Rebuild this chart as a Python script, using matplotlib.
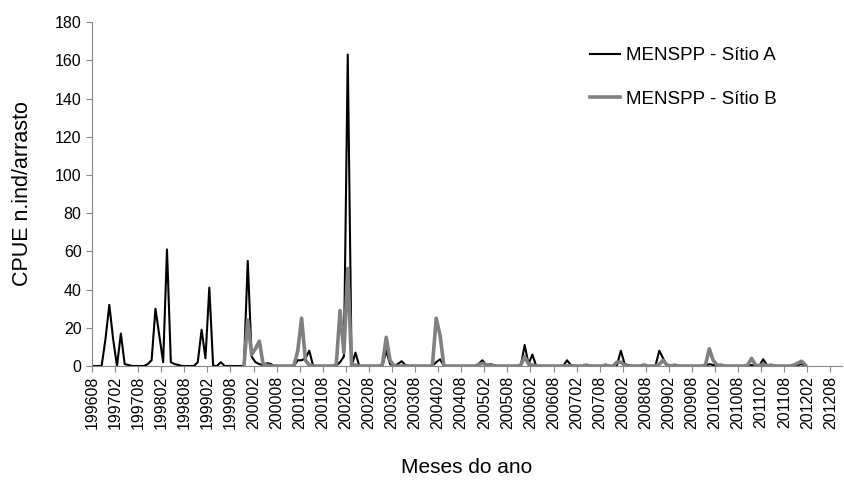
import numpy as np
import matplotlib
matplotlib.use("Agg")
import matplotlib.pyplot as plt

plt.rcParams['font.family'] = ['Liberation Sans', 'DejaVu Sans']

# meses no eixo: 199608 ... 201210 (categorias), rótulo a cada 6 meses
n_meses = 195
rotulos = ['199608', '199702', '199708', '199802', '199808', '199902',
           '199908', '200002', '200008', '200102', '200108', '200202',
           '200208', '200302', '200308', '200402', '200408', '200502',
           '200508', '200602', '200608', '200702', '200708', '200802',
           '200808', '200902', '200908', '201002', '201008', '201102',
           '201108', '201202', '201208']

# CPUE (n.ind/arrasto), uma linha por ano (ago-jul)
sitio_a = [
    0, 0, 0, 14, 32, 14, 0, 17, 1, 0.5, 0, 0,          # 199608-199707
    0, 0, 1, 3, 30, 16, 2, 61, 2, 1, 0.5, 0,            # 199708-199807
    0, 0, 0, 2, 19, 4, 41, 0, 0, 2, 0, 0,               # 199808-199907
    0, 0, 0, 0, 55, 5, 2, 1, 0.5, 1.5, 1, 0,            # 199908-200007
    0, 0, 0, 0, 0, 3, 3, 4, 8, 0, 0, 0,                 # 200008-200107
    0, 0, 0, 0, 2, 5, 163, 0, 7, 0, 0, 0,               # 200108-200207
    0, 0, 0, 0, 8, 1, 0, 1, 2.5, 0.5, 0, 0,             # 200208-200307
    0, 0, 0, 0, 0, 2, 3.5, 0, 0, 0, 0, 0,               # 200308-200407
    0, 0, 0, 0, 1, 3, 0.5, 1, 0.5, 0, 0, 0,             # 200408-200507
    0, 0, 0, 0, 11, 1, 6, 0, 0, 0, 0, 0,                # 200508-200607
    0, 0, 0, 3, 0.5, 0, 0, 0, 0.5, 0, 0, 0,             # 200608-200707
    0, 0.3, 0, 0, 0.5, 8, 1, 0.5, 0, 0, 0, 0,           # 200708-200807
    0, 0, 0, 8, 4, 0, 0, 0.5, 0, 0, 0, 0,               # 200808-200907
    0, 0, 0, 0, 1, 0.5, 0, 0.5, 0, 0, 0, 0,             # 200908-201007
    0, 0, 0, 0.5, 0, 0, 3.5, 0.5, 0.5, 0, 0, 0,         # 201008-201107
    0, 0, 0, 0.5, 1, 0,                                 # 201108-201201
]

sitio_b = [
    None, None, None, None, None, None, None, None, None, None, None, None,
    None, None, None, None, None, None, None, None, None, None, None, None,
    None, None, None, None, None, None, None, None, None, None, None, None,
    None, None, None, 0, 24, 6, 9, 13, 1, 0.5, 0, 0,    # 199908-200007
    0, 0, 0, 0, 0, 8, 25, 3, 0.5, 0, 0, 0,              # 200008-200107
    0, 0, 0, 0.5, 29, 7, 51, 0, 0.5, 0, 0, 0,           # 200108-200207
    0, 0, 0, 0.5, 15, 3, 0, 0, 0, 0, 0, 0,              # 200208-200307
    0, 0, 0, 0, 0, 25, 16, 0, 0, 0, 0, 0,               # 200308-200407
    0, 0, 0, 0, 0.5, 1.5, 0.5, 0.5, 0, 0, 0, 0,         # 200408-200507
    0, 0, 0, 0.5, 5, 1, 0.5, 0, 0, 0, 0, 0,             # 200508-200607
    0, 0, 0, 0, 0, 0, 0, 0, 0.5, 0, 0, 0,               # 200608-200707
    0, 0.5, 0, 0, 2, 2, 0.5, 0, 0, 0, 0, 0.5,           # 200708-200807
    0, 0, 0, 1, 3, 0.5, 0, 0.5, 0, 0, 0, 0,             # 200808-200907
    0, 0, 0, 0.5, 9, 3, 0.5, 0.5, 0, 0, 0, 0,           # 200908-201007
    0, 0, 0.5, 4, 0.5, 0, 1, 0, 0.5, 0, 0, 0,           # 201008-201107
    0, 0, 0.5, 1.5, 2.5, 0.5,                           # 201108-201201
]

a = np.array(sitio_a, dtype=float)
b = np.array(sitio_b, dtype=float)

fig = plt.figure(figsize=(8.44, 4.80), dpi=100)
ax = fig.add_axes([0.109, 0.2375, 0.8886, 0.7165])

ax.plot(np.arange(len(a)), a, color='black', lw=1.5,
        solid_joinstyle='round', label='MENSPP - Sítio A')
ax.plot(np.arange(len(b)), b, color='#808080', lw=2.6,
        solid_joinstyle='round', label='MENSPP - Sítio B')

cinza = '#868686'
ax.set_xlim(-0.5, n_meses - 0.5)
ax.set_ylim(0, 180)
ax.set_yticks(np.arange(0, 181, 20))
ax.set_xticks(np.arange(0, n_meses, 6) - 0.5)
ax.set_xticklabels(rotulos, rotation=90)

for lado in ['top', 'right']:
    ax.spines[lado].set_visible(False)
for lado in ['left', 'bottom']:
    ax.spines[lado].set_color(cinza)
    ax.spines[lado].set_linewidth(0.8)
ax.tick_params(axis='both', direction='out', length=4, width=0.8,
               color=cinza, labelsize=11.5, labelcolor='black')
ax.tick_params(axis='x', pad=3)

# títulos dos eixos
ax.set_xlabel('Meses do ano', fontsize=15)
ax.xaxis.set_label_coords(0.5, -0.294)
ax.xaxis.label.set_va('center')
ax.set_ylabel('CPUE n.ind/arrasto', fontsize=15.5)
ax.yaxis.set_label_coords(-0.092, 0.5)
ax.yaxis.label.set_va('center')

fig.legend(loc='upper left', bbox_to_anchor=(0.699, 0.902), frameon=False,
           fontsize=13.5, handlelength=1.6, handletextpad=0.3,
           labelspacing=1.42, borderpad=0, borderaxespad=0)

fig.savefig('out.png', dpi=100)
